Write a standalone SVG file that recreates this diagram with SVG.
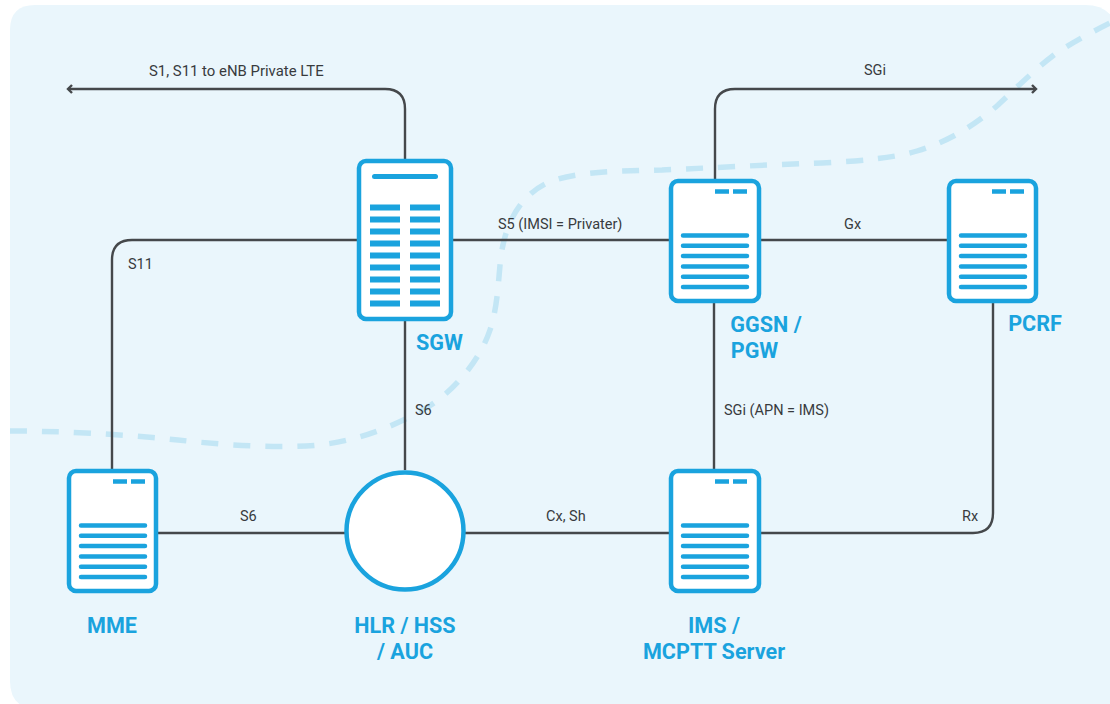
<svg xmlns="http://www.w3.org/2000/svg" width="1110" height="704" viewBox="0 0 1110 704">
<defs>
<marker id="arr" markerUnits="userSpaceOnUse" markerWidth="12" markerHeight="12" refX="9.5" refY="6" orient="auto-start-reverse"><path d="M5.500 2 L9.500 6 L5.500 10" fill="none" stroke="#45484b" stroke-width="2.400"/></marker>
<g id="docLines"><path d="M0 0H64M0 10.300H64M0 20.600H64M0 30.900H64M0 41.200H64M0 51.500H64" fill="none" stroke="#1aa3de" stroke-width="4.500" stroke-linecap="round"/></g>
</defs>
<style>
.bg{fill:#eaf6fc}
.dash{fill:none;stroke:#c3e6f5;stroke-width:5.500;stroke-dasharray:17 15}
.conn{fill:none;stroke:#45484b;stroke-width:2.400}
.box{fill:#fff;stroke:#1aa3de;stroke-width:4.500}
.bar{fill:#1aa3de}
.lbl{font-family:"Roboto","Liberation Sans",sans-serif;font-size:14.500px;fill:#383b3e}
.name{font-family:"Roboto","Liberation Sans",sans-serif;font-size:21.600px;font-weight:700;fill:#1aa3de;text-anchor:middle}
</style>
<path class="bg" d="M35 5H1085Q1106 5 1114 20V709H38Q10 709 10 681V30Q10 5 35 5Z"/>
<path class="dash" d="M10 431C60 431 120 434 178 440C215 444 260 448 306 446C345 444 385 432 428 407C455 390 480 360 490 330C500 300 498 265 503 245C507 225 518 198 545 184C570 172 610 171 662 170C710 168 760 165 822 163C860 161 895 158 917 151C950 141 975 125 998 105C1020 84 1040 65 1058 52C1075 41 1090 33 1110 23"/>
<g id="connectors">
<path class="conn" marker-start="url(#arr)" d="M68 89H385Q405 89 405 109V160"/>
<path class="conn" d="M358 240H132Q112 240 112 260V470"/>
<path class="conn" d="M452 240H670"/>
<path class="conn" d="M760 240H948"/>
<path class="conn" marker-end="url(#arr)" d="M715 180V109Q715 89 735 89H1036"/>
<path class="conn" d="M405 320V470"/>
<path class="conn" d="M714 300V470"/>
<path class="conn" d="M158 533H345"/>
<path class="conn" d="M465 533H670"/>
<path class="conn" d="M760 533H973Q993 533 993 513V300"/>
</g>
<g id="sgw">
<rect class="box" x="359" y="161" width="92" height="158" rx="7"/>
<rect class="bar" x="372" y="174" width="66" height="5" rx="2.500"/>
<path d="M370 207.500H400M410 207.500H440M370 219.500H400M410 219.500H440M370 231.500H400M410 231.500H440M370 243.500H400M410 243.500H440M370 255.500H400M410 255.500H440M370 267.500H400M410 267.500H440M370 279.500H400M410 279.500H440M370 291.500H400M410 291.500H440M370 303.500H400M410 303.500H440" fill="none" stroke="#1aa3de" stroke-width="6"/>
<text class="name" x="439.500" y="350">SGW</text>
</g>
<g id="ggsn">
<rect class="box" x="671" y="181" width="88" height="120" rx="7"/>
<path d="M715 191.500H729M733 191.500H747" fill="none" stroke="#1aa3de" stroke-width="4.500"/>
<use href="#docLines" x="683" y="235.500"/>
<text class="name" x="766" y="332">GGSN /</text>
<text class="name" x="754.500" y="358">PGW</text>
</g>
<g id="pcrf">
<rect class="box" x="949" y="181" width="87" height="120" rx="7"/>
<path d="M992 191.500H1006M1010 191.500H1024" fill="none" stroke="#1aa3de" stroke-width="4.500"/>
<use href="#docLines" x="961" y="235.500"/>
<text class="name" x="1035" y="331">PCRF</text>
</g>
<g id="mme">
<rect class="box" x="69" y="471" width="87" height="120" rx="7"/>
<path d="M113 481.500H127M131 481.500H145" fill="none" stroke="#1aa3de" stroke-width="4.500"/>
<use href="#docLines" x="81" y="525.500"/>
<text class="name" x="112" y="633">MME</text>
</g>
<g id="hss">
<circle cx="405" cy="531" r="58.500" fill="#fff" stroke="#1aa3de" stroke-width="4.500"/>
<text class="name" x="405" y="633">HLR / HSS</text>
<text class="name" x="405" y="659">/ AUC</text>
</g>
<g id="ims">
<rect class="box" x="671" y="471" width="88" height="120" rx="7"/>
<path d="M715 481.500H729M733 481.500H747" fill="none" stroke="#1aa3de" stroke-width="4.500"/>
<use href="#docLines" x="683" y="525.500"/>
<text class="name" x="714" y="633">IMS /</text>
<text class="name" x="714" y="659">MCPTT Server</text>
</g>
<g id="labels">
<text class="lbl" x="149" y="75.500" style="font-size:14.900px">S1, S11 to eNB Private LTE</text>
<text class="lbl" x="864" y="75">SGi</text>
<text class="lbl" x="128" y="269">S11</text>
<text class="lbl" x="498" y="229">S5 (IMSI = Privater)</text>
<text class="lbl" x="844" y="229">Gx</text>
<text class="lbl" x="415" y="415">S6</text>
<text class="lbl" x="724" y="415">SGi (APN = IMS)</text>
<text class="lbl" x="240" y="521">S6</text>
<text class="lbl" x="546" y="521">Cx, Sh</text>
<text class="lbl" x="962" y="521">Rx</text>
</g>
</svg>
